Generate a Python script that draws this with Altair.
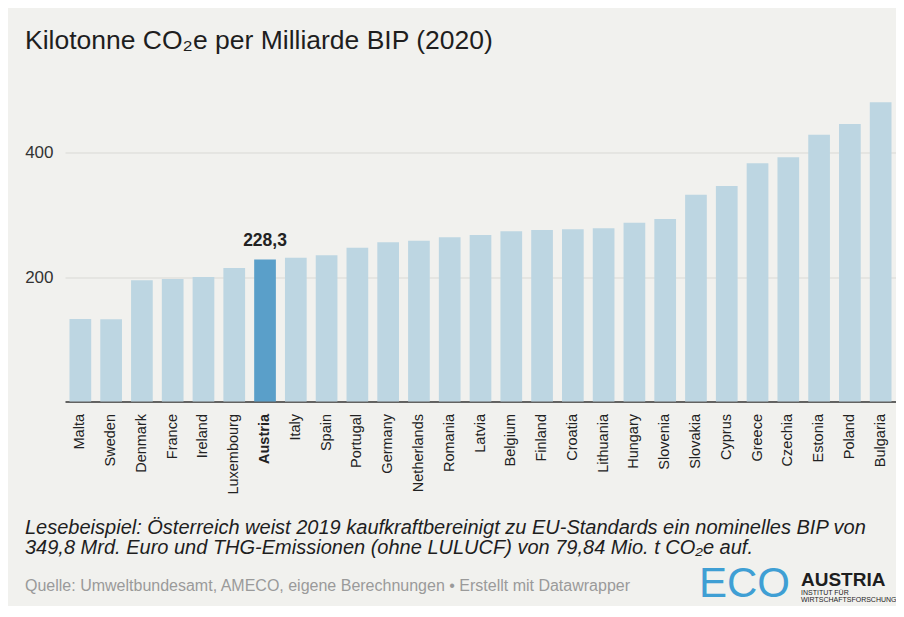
import altair as alt
import pandas as pd

countries = ["Malta", "Sweden", "Denmark", "France", "Ireland", "Luxembourg", "Austria",
             "Italy", "Spain", "Portugal", "Germany", "Netherlands", "Romania", "Latvia",
             "Belgium", "Finland", "Croatia", "Lithuania", "Hungary", "Slovenia", "Slovakia",
             "Cyprus", "Greece", "Czechia", "Estonia", "Poland", "Bulgaria"]
values = [132.5, 132.3, 194.8, 197.0, 200.2, 214.6, 228.3,
          231.2, 235.0, 247.3, 256.0, 258.3, 264.0, 267.7,
          273.6, 275.7, 276.8, 278.4, 287.5, 293.4, 332.5,
          346.5, 383.0, 392.6, 429.0, 446.0, 481.0]
highlight = "Austria"
y_ticks = [200, 400]

title_text = "Kilotonne CO\u2082e per Milliarde BIP (2020)"
note_lines = [
    "Lesebeispiel: Österreich weist 2019 kaufkraftbereinigt zu EU-Standards ein nominelles BIP von",
    "349,8 Mrd. Euro und THG-Emissionen (ohne LULUCF) von 79,84 Mio. t CO\u2082e auf.",
]
source_text = "Quelle: Umweltbundesamt, AMECO, eigene Berechnungen \u2022 Erstellt mit Datawrapper"

df = pd.DataFrame({"country": countries, "value": values})
df["label"] = [f"{v:.1f}".replace(".", ",") for v in values]

FONT = "Liberation Sans"
BG = "#f1f1ee"

base = alt.Chart(df)

bars = base.mark_bar().encode(
    x=alt.X("country:N", sort=None, title=None,
            scale=alt.Scale(paddingInner=0.295, paddingOuter=0.146),
            axis=alt.Axis(labelAngle=270, ticks=False, tickSize=0, labelPadding=12,
                          labelFontSize=14.5, labelColor="#222", labelFont=FONT,
                          labelFontWeight={"condition": {"test": f"datum.value === '{highlight}'", "value": "bold"}, "value": "normal"},
                          domain=True, domainColor="#333", domainWidth=1.3, grid=False)),
    y=alt.Y("value:Q", title=None,
            scale=alt.Scale(domain=[0, 500], nice=False),
            axis=alt.Axis(values=y_ticks, grid=True, gridColor="#d9d9d5", gridWidth=1,
                          domain=False, ticks=False, tickSize=0, labelPadding=12,
                          labelFontSize=17, labelColor="#333", labelFont=FONT)),
    color=alt.condition(alt.datum.country == highlight, alt.value("#5a9fc9"), alt.value("#bdd6e2")),
)

value_label = base.transform_filter(alt.datum.country == highlight).mark_text(
    font=FONT, fontSize=17.5, fontWeight="bold", color="#222", baseline="alphabetic", dy=-13
).encode(x=alt.X("country:N", sort=None), y="value:Q", text="label:N")


def text_layer(txt, x, y, **kw):
    return alt.Chart(pd.DataFrame({"t": [txt]})).mark_text(
        align="left", baseline="alphabetic", **kw
    ).encode(x=alt.value(x), y=alt.value(y), text="t:N")


title = text_layer(title_text, -40, -41.5, font=FONT, fontSize=26.5, color="#1e1e1e")
note1 = text_layer(note_lines[0], -40, 443.5, font=FONT, fontSize=20, fontStyle="italic", color="#1e1e1e")
note2 = text_layer(note_lines[1], -40, 463.5, font=FONT, fontSize=20, fontStyle="italic", color="#1e1e1e")
source = text_layer(source_text, -40, 500.5, font=FONT, fontSize=16, color="#9a9a9a")
logo_eco = text_layer("ECO", 634, 506, font=FONT, fontSize=42, color="#3f9fd4")
logo_austria = text_layer("AUSTRIA", 736, 495.5, font=FONT, fontSize=19, fontWeight="bold", color="#1e1e1e")
logo_inst1 = text_layer("INSTITUT FÜR", 736, 504, font=FONT, fontSize=7, color="#1e1e1e")
logo_inst2 = text_layer("WIRTSCHAFTSFORSCHUNG", 736, 511, font=FONT, fontSize=7, color="#1e1e1e")

chart = alt.layer(
    bars, value_label, title, note1, note2, source,
    logo_eco, logo_austria, logo_inst1, logo_inst2
).properties(
    width=831, height=311,
    autosize=alt.AutoSizeParams(type="none"),
    padding={"left": 57, "top": 82.5, "right": 0, "bottom": 204.5},
    background=BG,
).configure(font=FONT, view=alt.ViewConfig(stroke=None))

chart.save("out.html", embed_options={"renderer": "svg", "actions": False})
